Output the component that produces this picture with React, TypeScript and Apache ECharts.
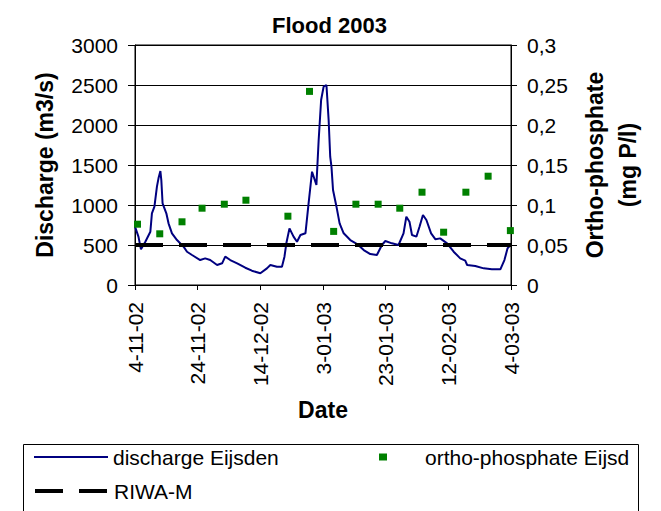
import React, { useEffect, useRef } from "react";
import * as echarts from "echarts";

// Day offsets from 4-11-2002 and discharge values (m3/s)
const START_UTC = Date.UTC(2002, 10, 4);
const DAY_MS = 86400000;

const dischargeDays = [
  0, 1.1, 1.9, 3.3, 4.9, 5.4, 6.2, 7, 7.5, 8.1, 8.4, 8.8, 10, 10.7, 11.8, 13.4, 15.5, 16.6, 18.2,
  20.8, 22.4, 24, 26.2, 27.8, 28.8, 30.4, 32.6, 35.2, 37.3, 40, 42.1, 43.2, 45.3, 46.9, 47.7, 48.3,
  49.3, 50.6, 51.7, 52.8, 54.4, 55.4, 56.5, 57.9, 58.6, 59.4, 60.2, 61.1, 61.8, 62.3, 62.7, 63.2,
  64.3, 65.3, 66.6, 68.7, 70.9, 73, 75.1, 77.2, 78.8, 79.9, 82, 84.1, 85.7, 86.6, 87.6, 88.4, 89.8,
  90.8, 91.9, 93, 94.5, 95.9, 97.4, 99.6, 101.7, 103.8, 105.4, 106, 108.6, 111.3, 113.9, 116.6,
  117.9, 118.9, 119.8,
];
const dischargeValues = [
  729, 604, 446, 541, 666, 896, 979, 1229, 1333, 1425, 1312, 1021, 896, 771, 646, 562, 479, 416, 375,
  312, 333, 312, 250, 271, 354, 312, 271, 216, 179, 146, 208, 250, 229, 229, 354, 521,
  708, 604, 541, 625, 646, 1021, 1416, 1250, 1800, 2312, 2479, 2500, 2062, 1604, 1479, 1187,
  979, 771, 646, 562, 512, 437, 387, 375, 500, 550, 521, 500, 646, 854, 791, 625, 604,
  729, 875, 812, 646, 571, 583, 521, 416, 333, 304, 250, 237, 208, 196, 196,
  312, 458, 500,
];

// Ortho-phosphate samples (mg P/l)
const phosphateDays = [0.8, 7.9, 15, 21.4, 28.5, 35.4, 48.8, 55.7, 63.4, 70.5, 77.6, 84.5, 91.6, 98.5, 105.6, 112.7, 119.8];
const phosphateValues = [0.076, 0.064, 0.079, 0.096, 0.101, 0.106, 0.086, 0.242, 0.067, 0.101, 0.101, 0.096, 0.116, 0.066, 0.116, 0.136, 0.068];

// RIWA-M standard (drawn on discharge axis at equivalent 0.05 mg P/l)
const riwaDays = [0, 120];
const RIWA_M = 500;

const SERIES_NAMES = ["discharge Eijsden", "ortho-phosphate Eijsd", "RIWA-M"];
const FONT = "'Liberation Sans', Arial, Helvetica, sans-serif";

function fmtDate(v: number): string {
  const d = new Date(START_UTC + Math.round(v) * DAY_MS);
  const mm = String(d.getUTCMonth() + 1).padStart(2, "0");
  const yy = String(d.getUTCFullYear() % 100).padStart(2, "0");
  return `${d.getUTCDate()}-${mm}-${yy}`;
}

export default function App() {
  const ref = useRef<HTMLDivElement>(null);
  useEffect(() => {
    if (!ref.current) return;
    const chart = echarts.init(ref.current, undefined, { renderer: "svg" });
    const txt = { color: "#000", fontFamily: FONT };
    const hideSymbol = { color: "transparent", opacity: 0, borderWidth: 0 };
    chart.setOption({
      animation: false,
      backgroundColor: "#fff",
      title: {
        text: "Flood 2003",
        left: 267,
        top: 9,
        textStyle: { ...txt, fontSize: 22, fontWeight: "bold" },
      },
      grid: { left: 135, top: 45, width: 376, height: 240, show: true, borderColor: "#000", borderWidth: 1 },
      xAxis: {
        type: "value",
        min: 0,
        max: 120,
        interval: 20,
        axisLine: { show: true, lineStyle: { color: "#000", width: 1 } },
        axisTick: { show: true, length: 5, lineStyle: { color: "#000" } },
        splitLine: { show: false },
        axisLabel: { ...txt, fontSize: 21, rotate: 90, margin: 17, formatter: (v: number) => fmtDate(v) },
        name: "Date",
        nameLocation: "middle",
        nameGap: 113,
        nameTextStyle: { ...txt, fontSize: 23, fontWeight: "bold" },
      },
      yAxis: [
        {
          type: "value",
          min: 0,
          max: 3000,
          interval: 500,
          position: "left",
          axisLine: { show: true, lineStyle: { color: "#000", width: 1 } },
          axisTick: { show: true, length: 7, lineStyle: { color: "#000" } },
          splitLine: { show: true, lineStyle: { color: "#000", width: 1 } },
          axisLabel: { ...txt, fontSize: 21, margin: 17, formatter: (v: number) => String(v) },
          name: "Discharge (m3/s)",
          nameLocation: "middle",
          nameGap: 79,
          nameRotate: 90,
          nameTextStyle: { ...txt, fontSize: 23, fontWeight: "bold" },
        },
        {
          type: "value",
          min: 0,
          max: 0.3,
          interval: 0.05,
          position: "right",
          axisLine: { show: true, lineStyle: { color: "#000", width: 1 } },
          axisTick: { show: true, length: 6, lineStyle: { color: "#000" } },
          splitLine: { show: false },
          axisLabel: {
            ...txt,
            fontSize: 21,
            margin: 16,
            formatter: (v: number) => String(Math.round(v * 100) / 100).replace(".", ","),
          },
          name: "Ortho-phosphate\n(mg P/l)",
          nameLocation: "middle",
          nameGap: 54,
          nameRotate: 90,
          nameTextStyle: { ...txt, fontSize: 23, fontWeight: "bold", lineHeight: 33 },
        },
      ],
      legend: [
        {
          data: [SERIES_NAMES[0]],
          left: 33,
          top: 446,
          padding: 0,
          itemWidth: 74,
          itemHeight: 8,
          lineStyle: { width: 2 },
          itemStyle: hideSymbol,
          textStyle: { ...txt, fontSize: 21, lineHeight: 22 },
        },
        {
          data: [{ name: SERIES_NAMES[1], icon: "rect" }],
          left: 379,
          top: 446,
          padding: 0,
          itemWidth: 8,
          itemHeight: 7,
          itemStyle: { opacity: 1 },
          textStyle: { ...txt, fontSize: 21, lineHeight: 22, padding: [0, 0, 0, 33] },
        },
        {
          data: [SERIES_NAMES[2]],
          left: 33,
          top: 480,
          padding: 0,
          itemWidth: 74,
          itemHeight: 8,
          lineStyle: { width: 4 },
          itemStyle: hideSymbol,
          textStyle: { ...txt, fontSize: 21, lineHeight: 22 },
        },
      ],
      graphic: [
        {
          type: "rect",
          left: 21,
          top: 442,
          shape: { x: 0, y: 0, width: 615, height: 90 },
          style: { fill: "none", stroke: "#000", lineWidth: 1 },
          silent: true,
          z: -1,
        },
      ],
      series: [
        {
          name: SERIES_NAMES[0],
          type: "line",
          yAxisIndex: 0,
          symbol: "none",
          data: dischargeDays.map((d, i) => [d, dischargeValues[i]]),
          lineStyle: { color: "#000080", width: 2 },
          itemStyle: { color: "#000080" },
          z: 2,
        },
        {
          name: SERIES_NAMES[2],
          type: "line",
          yAxisIndex: 0,
          symbol: "none",
          data: riwaDays.map((d) => [d, RIWA_M]),
          lineStyle: { color: "#000", width: 4, type: [28, 16] },
          itemStyle: { color: "#000" },
          z: 3,
        },
        {
          name: SERIES_NAMES[1],
          type: "scatter",
          yAxisIndex: 1,
          symbol: "rect",
          symbolSize: 7,
          data: phosphateDays.map((d, i) => [d, phosphateValues[i]]),
          itemStyle: { color: "#008000", opacity: 1 },
          z: 4,
        },
      ],
    });
    return () => chart.dispose();
  }, []);
  return (
    <div
      ref={ref}
      style={{ position: "fixed", left: 0, top: 0, width: 661, height: 511, background: "#fff" }}
    />
  );
}
